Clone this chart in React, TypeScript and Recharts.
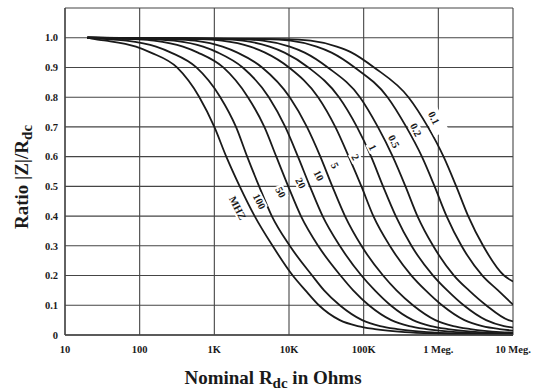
import React from 'react';
import { LineChart, Line, XAxis, YAxis, CartesianGrid, ReferenceDot } from 'recharts';

// ratio levels at which each curve's resistance was read
const levels = [0.995, 0.99, 0.97, 0.95, 0.9, 0.8, 0.7, 0.6, 0.5, 0.4, 0.3, 0.2, 0.15, 0.1, 0.05, 0.03, 0.02, 0.01, 0.005, 0.002];

// decade position log10(Rdc) where each frequency curve crosses the levels above
const at100MHz = [1.40, 1.55, 1.95, 2.15, 2.50, 2.80, 3.00, 3.16, 3.34, 3.54, 3.78, 4.05, 4.22, 4.40, 4.68, 4.92, 5.15, 5.55, 6.00, 6.50];
const at50MHz = [1.56, 1.82, 2.22, 2.42, 2.76, 3.08, 3.29, 3.44, 3.60, 3.77, 4.01, 4.31, 4.47, 4.68, 4.98, 5.22, 5.45, 5.85, 6.30, 6.80];
const at20MHz = [1.92, 2.19, 2.58, 2.78, 3.12, 3.45, 3.67, 3.83, 3.99, 4.16, 4.39, 4.69, 4.86, 5.07, 5.37, 5.61, 5.84, 6.24, 6.69];
const at10MHz = [2.18, 2.46, 2.85, 3.05, 3.38, 3.73, 3.95, 4.12, 4.28, 4.45, 4.68, 4.97, 5.15, 5.36, 5.66, 5.90, 6.13, 6.53];
const at5MHz = [2.44, 2.74, 3.11, 3.31, 3.64, 4.01, 4.24, 4.42, 4.58, 4.75, 4.97, 5.26, 5.44, 5.66, 5.96, 6.20, 6.43, 6.83];
const at2MHz = [2.80, 3.10, 3.48, 3.68, 4.00, 4.39, 4.62, 4.80, 4.97, 5.13, 5.35, 5.64, 5.83, 6.05, 6.35, 6.59, 6.82];
const at1MHz = [3.06, 3.38, 3.74, 3.94, 4.26, 4.67, 4.91, 5.10, 5.26, 5.43, 5.64, 5.93, 6.12, 6.34, 6.64, 6.88];
const at05MHz = [3.32, 3.65, 4.01, 4.21, 4.52, 4.95, 5.19, 5.39, 5.56, 5.72, 5.93, 6.21, 6.41, 6.64, 6.94];
const at02MHz = [3.68, 4.02, 4.37, 4.57, 4.88, 5.32, 5.57, 5.78, 5.95, 6.11, 6.31, 6.59, 6.80];
const at01MHz = [3.94, 4.29, 4.64, 4.84, 5.14, 5.60, 5.86, 6.07, 6.24, 6.40, 6.60, 6.88];

// value of each curve at the 10 Meg. edge
const endValues = [0.0, 0.001, 0.003, 0.005, 0.008, 0.015, 0.025, 0.046, 0.102, 0.18];

const crossings = [at100MHz, at50MHz, at20MHz, at10MHz, at5MHz, at2MHz, at1MHz, at05MHz, at02MHz, at01MHz];

// curve captions, written along the curves
const captionTexts = ['MHZ', '100', '50', '20', '10', '5', '2', '1', '0.5', '0.2', '0.1'];
const captionR = [2050, 4000, 7700, 14300, 25000, 41000, 77000, 132000, 254000, 500000, 870000];
const captionRatio = [0.427, 0.449, 0.48, 0.511, 0.536, 0.57, 0.598, 0.631, 0.651, 0.69, 0.73];
// length of the white patch cut out round each caption
const captionGap = [20, 16, 14, 14, 14, 10, 10, 10, 18, 18, 34];

const xTicks = [10, 100, 1e3, 1e4, 1e5, 1e6, 1e7];
const xTickLabels = ['10', '100', '1K', '10K', '100K', '1 Meg.', '10 Meg.'];
const yTicks = [0, 0.1, 0.2, 0.3, 0.4, 0.5, 0.6, 0.7, 0.8, 0.9, 1.0, 1.1];

const START_R = 20;
const END_R = 1e7;

const curves = crossings.map((decades, k) => [
  { r: START_R, v: 1 },
  ...decades.map((d, i) => ({ r: Math.pow(10, d), v: levels[i] })),
  { r: END_R, v: endValues[k] },
]);

const FONT = '"Liberation Serif", "DejaVu Serif", serif';
const INK = '#1a1a1a';
const GRID = '#454545';

const Caption = ({ cx, cy, text, gap }: any) => {
  if (cx == null || cy == null) return null;
  const h = gap > 30 ? 16 : 11;
  return (
    <g transform={`translate(${cx},${cy}) rotate(63)`}>
      <rect x={-gap / 2} y={-h / 2} width={gap} height={h} fill="#fff" />
      <text
        x={0}
        y={0}
        textAnchor="middle"
        dominantBaseline="central"
        fontFamily={FONT}
        fontWeight="bold"
        fontSize={10.5}
        fill={INK}
      >
        {text}
      </text>
    </g>
  );
};

const XTitle = ({ viewBox }: any) => {
  const cx = viewBox.x + viewBox.width / 2 - 16;
  return (
    <text x={cx} y={384} textAnchor="middle" fontFamily={FONT} fontWeight="bold" fontSize={19} fill={INK}>
      <tspan>Nominal R</tspan>
      <tspan fontSize={15} dy={4}>dc</tspan>
      <tspan dy={-4}> in Ohms</tspan>
    </text>
  );
};

const YTitle = () => (
  <text
    transform="translate(28,177) rotate(-90)"
    textAnchor="middle"
    fontFamily={FONT}
    fontWeight="bold"
    fontSize={19}
    fill={INK}
  >
    <tspan>Ratio |Z|/R</tspan>
    <tspan fontSize={15} dy={4}>dc</tspan>
  </text>
);

export default function App() {
  return (
    <div style={{ position: 'absolute', left: 0, top: 0, background: '#fff' }}>
      <LineChart width={543} height={392} margin={{ top: 8, right: 30, left: 0, bottom: 0 }}>
        <CartesianGrid stroke={GRID} strokeWidth={1.1} />
        <XAxis
          dataKey="r"
          type="number"
          scale="log"
          domain={[10, 1e7]}
          ticks={xTicks}
          tickFormatter={(v: number) => xTickLabels[xTicks.indexOf(v)] ?? ''}
          tick={{ fontFamily: FONT, fontWeight: 'bold', fontSize: 10.5, fill: INK }}
          tickLine={false}
          tickSize={0}
          tickMargin={11}
          axisLine={{ stroke: GRID, strokeWidth: 1.3 }}
          height={57}
          interval={0}
          allowDataOverflow
          label={{ content: (p: any) => <XTitle {...p} /> }}
        />
        <YAxis
          type="number"
          domain={[0, 1.1]}
          ticks={yTicks}
          tickFormatter={(v: number) => (v > 1.05 ? '' : v === 0 ? '0' : v.toFixed(1))}
          tick={{ fontFamily: FONT, fontWeight: 'bold', fontSize: 10.5, fill: INK }}
          tickLine={false}
          tickSize={0}
          tickMargin={7}
          axisLine={{ stroke: GRID, strokeWidth: 1.3 }}
          width={65}
          interval={0}
          label={{ content: () => <YTitle /> }}
        />
        {curves.map((pts, k) => (
          <Line
            key={k}
            data={pts}
            dataKey="v"
            type="monotone"
            stroke={INK}
            strokeWidth={1.8}
            dot={false}
            isAnimationActive={false}
          />
        ))}
        {captionTexts.map((t, i) => (
          <ReferenceDot
            key={t}
            x={captionR[i]}
            y={captionRatio[i]}
            r={0}
            shape={(p: any) => <Caption {...p} text={t} gap={captionGap[i]} />}
          />
        ))}
      </LineChart>
    </div>
  );
}
